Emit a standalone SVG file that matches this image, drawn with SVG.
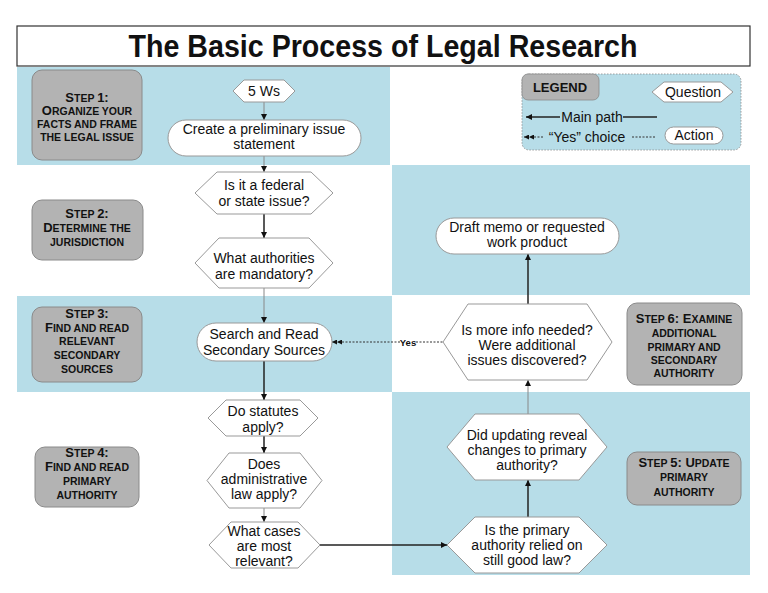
<svg xmlns="http://www.w3.org/2000/svg" width="768" height="593" viewBox="0 0 768 593">
<style>
.band{fill:#b7dde8}
.step{fill:#b3b3b3;stroke:#8a8a8a;stroke-width:1}
.steptxt{font-family:"Liberation Sans",Arial,sans-serif;font-weight:bold;font-size:10.5px;fill:#111;text-anchor:middle}
.b{font-size:13px}
.hex{fill:#fff;stroke:#999;stroke-width:1}
.pill{fill:#fff;stroke:#999;stroke-width:1}
.t{font-family:"Liberation Sans",Arial,sans-serif;font-size:14px;fill:#111;text-anchor:middle}
.ln{fill:none;stroke:#222;stroke-width:1.5}
.lg{fill:none;stroke:#888;stroke-width:1}
.dash{fill:none;stroke:#333;stroke-width:1;stroke-dasharray:2,1.5}
</style>
<defs>
<marker id="ah" viewBox="0 0 10 10" refX="10" refY="5" markerWidth="6" markerHeight="6" markerUnits="userSpaceOnUse" orient="auto">
<path d="M0,0 L10,5 L0,10 z" fill="#111"/>
</marker>
<marker id="ah2" viewBox="0 0 20 10" refX="20" refY="5" markerWidth="10" markerHeight="5" markerUnits="userSpaceOnUse" orient="auto">
<path d="M0,0 L10,5 L0,10 z M10,0 L20,5 L10,10 z" fill="#111"/>
</marker>
</defs>
<rect width="768" height="593" fill="#fff"/>
<!-- bands -->
<rect class="band" x="17" y="67" width="373" height="98"/>
<rect class="band" x="392" y="165" width="358" height="130"/>
<rect class="band" x="17" y="296" width="375" height="96"/>
<rect class="band" x="392" y="392" width="358" height="183"/>
<!-- title -->
<g id="title">
<rect x="17" y="26" width="733" height="40" fill="#fff" stroke="#333" stroke-width="1.2"/>
<text x="383" y="57" font-family="Liberation Sans,Arial,sans-serif" font-weight="bold" font-size="31" text-anchor="middle" textLength="509" lengthAdjust="spacingAndGlyphs" fill="#111">The Basic Process of Legal Research</text>
</g>
<!-- legend -->
<g id="legend">
<rect x="522" y="74" width="219" height="76" rx="7" fill="#b7dde8" stroke="#8a8a8a" stroke-width="0.8" stroke-dasharray="1.5,1.5"/>
<rect x="522" y="74" width="77" height="26" rx="6" fill="#b3b3b3" stroke="#8a8a8a" stroke-width="0.8"/>
<text x="560" y="92" font-family="Liberation Sans,Arial,sans-serif" font-weight="bold" font-size="13" text-anchor="middle" fill="#111">LEGEND</text>
<polygon class="hex" points="652,92 664,82 721,82 733,92 721,102 664,102"/>
<text class="t" x="693" y="97" font-size="13">Question</text>
<line class="ln" x1="560" y1="117" x2="526" y2="117" stroke-width="1.2" marker-end="url(#ah)"/>
<line class="ln" x1="623" y1="117" x2="657" y2="117" stroke-width="1.2"/>
<text class="t" x="592" y="122" font-size="13.5">Main path</text>
<line class="dash" x1="543" y1="137" x2="524" y2="137" marker-end="url(#ah2)"/>
<line class="dash" x1="632" y1="137" x2="656" y2="137"/>
<text class="t" x="587" y="142" font-size="13.5">“Yes” choice</text>
<rect class="pill" x="665" y="127" width="58" height="17" rx="8.5"/>
<text class="t" x="694" y="140" font-size="13.5">Action</text>
</g>
<!-- step boxes -->
<g id="step1">
<rect class="step" x="32" y="70" width="110" height="90" rx="10"/>
<text class="steptxt"><tspan x="87" y="102"><tspan class="b">S</tspan>TEP <tspan class="b">1:</tspan></tspan><tspan x="87" y="115"><tspan class="b">O</tspan>RGANIZE YOUR</tspan><tspan x="87" y="128">FACTS AND FRAME</tspan><tspan x="87" y="141">THE LEGAL ISSUE</tspan></text>
</g>
<g id="step2">
<rect class="step" x="32" y="200" width="111" height="60" rx="10"/>
<text class="steptxt"><tspan x="87" y="218"><tspan class="b">S</tspan>TEP <tspan class="b">2:</tspan></tspan><tspan x="87" y="232"><tspan class="b">D</tspan>ETERMINE THE</tspan><tspan x="87" y="246">JURISDICTION</tspan></text>
</g>
<g id="step3">
<rect class="step" x="32" y="307" width="110" height="75" rx="10"/>
<text class="steptxt"><tspan x="87" y="318"><tspan class="b">S</tspan>TEP <tspan class="b">3:</tspan></tspan><tspan x="87" y="332"><tspan class="b">F</tspan>IND AND READ</tspan><tspan x="87" y="345">RELEVANT</tspan><tspan x="87" y="359">SECONDARY</tspan><tspan x="87" y="373">SOURCES</tspan></text>
</g>
<g id="step4">
<rect class="step" x="35" y="447" width="104" height="60" rx="10"/>
<text class="steptxt"><tspan x="87" y="457"><tspan class="b">S</tspan>TEP <tspan class="b">4:</tspan></tspan><tspan x="87" y="471"><tspan class="b">F</tspan>IND AND READ</tspan><tspan x="87" y="485">PRIMARY</tspan><tspan x="87" y="499">AUTHORITY</tspan></text>
</g>
<g id="step6">
<rect class="step" x="627" y="303" width="115" height="82" rx="10"/>
<text class="steptxt"><tspan x="684" y="323"><tspan class="b">S</tspan>TEP <tspan class="b">6: E</tspan>XAMINE</tspan><tspan x="684" y="337">ADDITIONAL</tspan><tspan x="684" y="351">PRIMARY AND</tspan><tspan x="684" y="364">SECONDARY</tspan><tspan x="684" y="377">AUTHORITY</tspan></text>
</g>
<g id="step5">
<rect class="step" x="627" y="452" width="114" height="53" rx="10"/>
<text class="steptxt"><tspan x="684" y="467"><tspan class="b">S</tspan>TEP <tspan class="b">5: U</tspan>PDATE</tspan><tspan x="684" y="481">PRIMARY</tspan><tspan x="684" y="496">AUTHORITY</tspan></text>
</g>
<!-- connectors -->
<g id="connectors">
<line class="lg" x1="264" y1="102" x2="264" y2="120" marker-end="url(#ah)"/>
<line class="lg" x1="264" y1="156" x2="264" y2="172" marker-end="url(#ah)"/>
<line class="ln" x1="264" y1="214" x2="264" y2="238" marker-end="url(#ah)"/>
<line class="lg" x1="264" y1="288" x2="264" y2="323" marker-end="url(#ah)"/>
<line class="ln" x1="264" y1="361" x2="264" y2="400" marker-end="url(#ah)"/>
<line class="ln" x1="264" y1="436" x2="264" y2="453" marker-end="url(#ah)"/>
<line class="lg" x1="264" y1="508" x2="264" y2="522" marker-end="url(#ah)"/>
<line class="ln" x1="320" y1="545" x2="447" y2="545" stroke="#333" marker-end="url(#ah)"/>
<line class="ln" x1="528" y1="517" x2="528" y2="480" stroke="#335" marker-end="url(#ah)"/>
<line class="lg" x1="528" y1="414" x2="528" y2="380" marker-end="url(#ah)"/>
<line class="ln" x1="528" y1="304" x2="528" y2="254" stroke="#333" marker-end="url(#ah)"/>
<line class="dash" x1="400" y1="342" x2="332" y2="342" marker-end="url(#ah2)"/>
<line class="dash" x1="416" y1="342" x2="443" y2="342"/>
<text x="408" y="345.5" font-family="Liberation Sans,Arial,sans-serif" font-weight="bold" font-size="9.5" text-anchor="middle" fill="#111">Yes</text>
</g>
<!-- nodes -->
<g id="n5ws">
<polygon class="hex" points="233,91 244,80 284,80 295,91 284,102 244,102"/>
<text class="t" x="264" y="96">5 Ws</text>
</g>
<g id="ncreate">
<rect class="pill" x="168" y="120" width="193" height="36" rx="18"/>
<text class="t"><tspan x="264" y="134">Create a preliminary issue</tspan><tspan x="264" y="149">statement</tspan></text>
</g>
<g id="nfederal">
<polygon class="hex" points="195,193 217,172 311,172 333,193 311,214 217,214"/>
<text class="t"><tspan x="264" y="190">Is it a federal</tspan><tspan x="264" y="206">or state issue?</tspan></text>
</g>
<g id="nmandatory">
<polygon class="hex" points="195,263 219,238 309,238 333,263 309,288 219,288"/>
<text class="t"><tspan x="264" y="263">What authorities</tspan><tspan x="264" y="279">are mandatory?</tspan></text>
</g>
<g id="nsearch">
<rect class="pill" x="197" y="323" width="135" height="38" rx="19"/>
<text class="t"><tspan x="264" y="339">Search and Read</tspan><tspan x="264" y="355">Secondary Sources</tspan></text>
</g>
<g id="nstatutes">
<polygon class="hex" points="208,418 226,400 300,400 318,418 300,436 226,436"/>
<text class="t"><tspan x="263" y="416">Do statutes</tspan><tspan x="263" y="432">apply?</tspan></text>
</g>
<g id="nadmin">
<polygon class="hex" points="207,480.5 229,453 300,453 322,480.5 300,508 229,508"/>
<text class="t"><tspan x="264" y="469">Does</tspan><tspan x="264" y="484">administrative</tspan><tspan x="264" y="499">law apply?</tspan></text>
</g>
<g id="ncases">
<polygon class="hex" points="209,545 231,522 298,522 320,545 298,568 231,568"/>
<text class="t"><tspan x="264" y="536">What cases</tspan><tspan x="264" y="551">are most</tspan><tspan x="264" y="566">relevant?</tspan></text>
</g>
<g id="nprimary">
<polygon class="hex" points="447,545 475,517 579,517 607,545 579,573 475,573"/>
<text class="t"><tspan x="527" y="535">Is the primary</tspan><tspan x="527" y="550">authority relied on</tspan><tspan x="527" y="565">still good law?</tspan></text>
</g>
<g id="nupdating">
<polygon class="hex" points="447,447 475,414 579,414 607,447 579,480 475,480"/>
<text class="t"><tspan x="527" y="440">Did updating reveal</tspan><tspan x="527" y="455">changes to primary</tspan><tspan x="527" y="470">authority?</tspan></text>
</g>
<g id="nmoreinfo">
<polygon class="hex" points="443,342 468,304 587,304 612,342 587,380 468,380"/>
<text class="t"><tspan x="527" y="335">Is more info needed?</tspan><tspan x="527" y="350">Were additional</tspan><tspan x="527" y="365">issues discovered?</tspan></text>
</g>
<g id="ndraft">
<rect class="pill" x="436" y="218" width="183" height="36" rx="18"/>
<text class="t"><tspan x="527" y="232">Draft memo or requested</tspan><tspan x="527" y="247">work product</tspan></text>
</g>
</svg>
